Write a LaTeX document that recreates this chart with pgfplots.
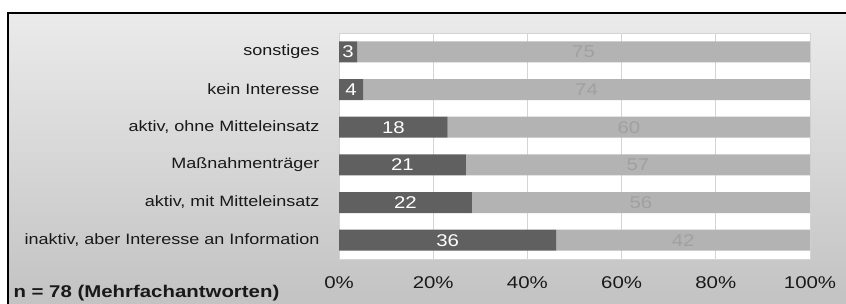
\documentclass[border=0pt]{standalone}
\usepackage{pgfplots}
\pgfplotsset{compat=1.18}
\usepackage{fontspec}
\setmainfont[FakeStretch=1.2]{Liberation Sans}
\definecolor{darkbar}{HTML}{606060}
\definecolor{lightbar}{HTML}{B3B3B3}
\definecolor{lightlab}{HTML}{A0A0A0}
\definecolor{gridc}{HTML}{D4D4D4}
\begin{document}
\begin{tikzpicture}
\useasboundingbox (0bp,0bp) rectangle (846bp,304bp);
\begin{scope}
\clip (0bp,0bp) rectangle (846bp,304bp);
\shade[top color=black!8, bottom color=black!24] (8bp,-5bp) rectangle (860bp,291bp);
\draw[black, line width=2bp] (8bp,-5bp) -- (8bp,291bp) -- (860bp,291bp);
\end{scope}
\begin{axis}[
  at={(339bp,45bp)}, anchor=south west,
  scale only axis, width=471bp, height=226bp,
  /pgf/number format/assume math mode=true,
  xbar stacked, bar width=21bp,
  xmin=0, xmax=78, ymin=-0.5, ymax=5.5,
  xtick={0,15.6,31.2,46.8,62.4,78},
  xticklabels={0\%,20\%,40\%,60\%,80\%,100\%},
  ytick={0,1,2,3,4,5},
  yticklabels={{inaktiv, aber Interesse an Information},{aktiv, mit Mitteleinsatz},{Maßnahmenträger},{aktiv, ohne Mitteleinsatz},{kein Interesse},{sonstiges}},
  major tick length=0pt,
  axis background/.style={fill=white},
  axis line style={draw=gridc, line width=0.8bp},
  xmajorgrids, major grid style={draw=gridc, line width=1bp},
  yticklabel style={font=\fontsize{15bp}{18bp}\selectfont, text=black!90, xshift=-16bp},
  xticklabel style={font=\fontsize{17bp}{20bp}\selectfont, text=black!90, yshift=-14bp},
  point meta=explicit,
  nodes near coords={\pgfmathprintnumber{\pgfplotspointmeta}},
  every node near coord/.append style={font=\fontsize{17bp}{19bp}\selectfont},
]
\addplot[fill=darkbar, draw=none, every node near coord/.append style={text=white}]
  coordinates {(36,0) [36] (22,1) [22] (21,2) [21] (18,3) [18] (4,4) [4] (3,5) [3]};
\addplot[fill=lightbar, draw=none, every node near coord/.append style={text=lightlab}]
  coordinates {(42,0) [42] (56,1) [56] (57,2) [57] (60,3) [60] (74,4) [74] (75,5) [75]};
\end{axis}
\node[anchor=base west, font=\bfseries\fontsize{17bp}{20bp}\selectfont, text=black!90] at (10bp,7bp) {n = 78 (Mehrfachantworten)};
\end{tikzpicture}
\end{document}
